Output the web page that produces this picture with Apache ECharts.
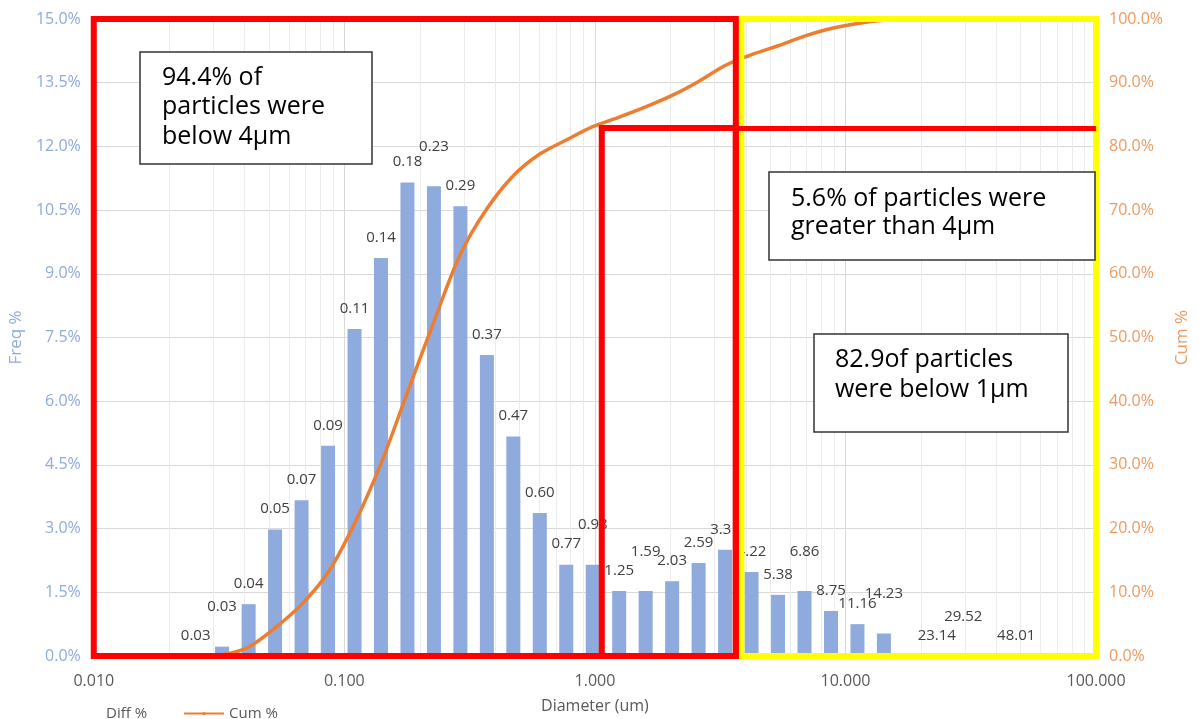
<!DOCTYPE html>
<html>
<head>
<meta charset="utf-8">
<script src="https://cdn.jsdelivr.net/npm/echarts@6/dist/echarts.min.js"></script>
<style>
html,body{margin:0;padding:0;background:#fff;}
#chart{width:1199px;height:719px;}
</style>
</head>
<body>
<div id="chart"></div>
<script>
// ---- data ----
const diameters = [0.0255, 0.0325, 0.0415, 0.0529, 0.0675, 0.0861, 0.1098, 0.1400, 0.1786, 0.2278,
  0.2905, 0.3705, 0.4725, 0.6026, 0.7685, 0.9801, 1.250, 1.594, 2.033, 2.593,
  3.307, 4.218, 5.380, 6.861, 8.751, 11.16, 14.23, 18.15, 23.14, 29.52, 37.65, 48.01];
const diffPct = [0, 0.22, 1.22, 2.98, 3.67, 4.95, 7.70, 9.37, 11.15, 11.06,
  10.59, 7.09, 5.17, 3.37, 2.15, 2.15, 1.53, 1.53, 1.76, 2.19,
  2.50, 1.98, 1.44, 1.53, 1.06, 0.75, 0.53, 0, 0, 0, 0, 0];
const cumPct = [0, 0.2, 1.4, 4.4, 8.1, 13.1, 20.8, 30.2, 41.4, 52.5,
  63.1, 70.2, 75.4, 78.8, 81.0, 83.1, 84.6, 86.2, 88.0, 90.2,
  92.7, 94.4, 95.8, 97.3, 98.5, 99.3, 99.8, 100, 100, 100, 100, 100];
const seriesNames = ['Diff %', 'Cum %'];
const xAxisName = 'Diameter (um)';
const leftAxisName = 'Freq %';
const rightAxisName = 'Cum %';
// annotation regions (diameter / cum % values)
const bigRedRegion = [0.01, 3.65];
const innerRedRegion = [1.065, 3.65];
const cutCum = 82.9;
const yellowRegion = [3.84, 100];
const notes = ['94.4% of\nparticles were\nbelow 4µm', '5.6% of particles were\ngreater than 4µm', '82.9of particles\nwere below 1µm'];

// label placement tweaks (Excel moved some labels up / hid some)
const raisedLabels = [1, 9, 15, 17, 23, 26, 29];
const hiddenLabels = [27, 30];

const FONT = '"Open Sans", "Noto Sans", sans-serif';
const minorLines = [];
[0.01, 0.1, 1, 10].forEach(dec => { for (let k = 2; k <= 9; k++) minorLines.push({ xAxis: +(dec * k).toPrecision(3) }); });

const barData = diameters.map((d, i) => ({
  value: [d, diffPct[i]],
  label: {
    show: hiddenLabels.indexOf(i) < 0,
    distance: raisedLabels.indexOf(i) >= 0 ? 32 : 13
  }
}));
const lineData = diameters.map((d, i) => [d, cumPct[i]]);

const chart = echarts.init(document.getElementById('chart'), null, { renderer: 'canvas' });
chart.setOption({
  animation: false,
  backgroundColor: '#ffffff',
  textStyle: { fontFamily: FONT },
  grid: { left: 90, right: 91, top: 19, bottom: 60, containLabel: false },
  legend: {
    data: [{ name: 'Diff %', icon: 'none' }, { name: 'Cum %' }],
    left: 56, top: 701,
    itemWidth: 40, itemHeight: 4, itemGap: 36,
    textStyle: { color: '#595959', fontSize: 15, fontFamily: FONT }
  },
  xAxis: {
    type: 'log', logBase: 10, min: 0.01, max: 100,
    name: xAxisName, nameLocation: 'middle', nameGap: 42,
    nameTextStyle: { color: '#595959', fontSize: 16, fontFamily: FONT },
    axisLine: { show: false }, axisTick: { show: false },
    axisLabel: { color: '#595959', fontSize: 16, margin: 17, formatter: v => (+v).toFixed(3) },
    splitLine: { show: true, lineStyle: { color: '#d9d9d9', width: 1 } }
  },
  yAxis: [
    {
      type: 'value', min: 0, max: 15, interval: 1.5,
      name: leftAxisName, nameLocation: 'middle', nameGap: 62, nameRotate: 90,
      nameTextStyle: { color: '#8FAADC', fontSize: 17, fontFamily: FONT },
      axisLine: { show: false }, axisTick: { show: false },
      axisLabel: { color: '#8FAADC', fontSize: 16, margin: 13, formatter: v => v.toFixed(1) + '%' },
      splitLine: { show: true, lineStyle: { color: '#d9d9d9', width: 1 } }
    },
    {
      type: 'value', min: 0, max: 100, interval: 10,
      name: rightAxisName, nameLocation: 'middle', nameGap: 74, nameRotate: 90,
      nameTextStyle: { color: '#EE9A62', fontSize: 17, fontFamily: FONT },
      axisLine: { show: false }, axisTick: { show: false },
      axisLabel: { color: '#EE9A62', fontSize: 16, margin: 13, formatter: v => v.toFixed(1) + '%' },
      splitLine: { show: false }
    }
  ],
  series: [
    {
      name: 'minor', type: 'line', data: [], z: 1, silent: true,
      markLine: {
        silent: true, symbol: 'none', label: { show: false }, animation: false, z: 1,
        lineStyle: { color: '#ececec', width: 1, type: 'solid' },
        data: minorLines
      }
    },
    {
      name: seriesNames[0], type: 'bar', barWidth: 14, z: 2,
      itemStyle: { color: '#8FAADC' },
      label: {
        show: true, position: 'top', color: '#404040', fontSize: 15, fontFamily: FONT,
        formatter: p => p.value[0].toFixed(2)
      },
      data: barData
    },
    {
      name: seriesNames[1], type: 'line', yAxisIndex: 1, z: 3,
      symbol: 'none', smooth: 0.3,
      lineStyle: { color: '#ED7D31', width: 3.5 },
      itemStyle: { color: '#ED7D31' },
      data: lineData
    },
    {
      name: 'yellowBox', type: 'line', yAxisIndex: 1, data: [], z: 10, silent: true,
      markArea: {
        silent: true, z: 10,
        itemStyle: { color: 'rgba(0,0,0,0)', borderColor: '#FFFF00', borderWidth: 6 },
        data: [[{ xAxis: yellowRegion[0], yAxis: 0 }, { xAxis: yellowRegion[1], yAxis: 100 }]]
      }
    },
    {
      name: 'redBoxes', type: 'line', yAxisIndex: 1, data: [], z: 11, silent: true,
      markArea: {
        silent: true, z: 11,
        itemStyle: { color: 'rgba(0,0,0,0)', borderColor: '#FF0000', borderWidth: 6 },
        data: [
          [{ xAxis: bigRedRegion[0], yAxis: 0 }, { xAxis: bigRedRegion[1], yAxis: 100 }],
          [{ xAxis: innerRedRegion[0], yAxis: 0 }, { xAxis: innerRedRegion[1], yAxis: cutCum }]
        ]
      },
      markLine: {
        silent: true, symbol: 'none', label: { show: false }, z: 12,
        lineStyle: { color: '#FF0000', width: 5, type: 'solid' },
        data: [[{ coord: [innerRedRegion[0], cutCum] }, { coord: [yellowRegion[1], cutCum] }]]
      }
    }
  ],
  graphic: [
    { type: 'rect', z: 100, shape: { x: 140, y: 52, width: 232, height: 112 }, style: { fill: '#fff', stroke: '#333', lineWidth: 1.5 } },
    { type: 'text', z: 101, x: 162, y: 63, style: { text: notes[0], font: '25px ' + FONT, lineHeight: 29.5, fill: '#000' } },
    { type: 'rect', z: 100, shape: { x: 769, y: 172, width: 326, height: 88 }, style: { fill: '#fff', stroke: '#333', lineWidth: 1.5 } },
    { type: 'text', z: 101, x: 791, y: 185, style: { text: notes[1], font: '25px ' + FONT, lineHeight: 28, fill: '#000' } },
    { type: 'rect', z: 100, shape: { x: 814, y: 334, width: 254, height: 98 }, style: { fill: '#fff', stroke: '#333', lineWidth: 1.5 } },
    { type: 'text', z: 101, x: 835, y: 345, style: { text: notes[2], font: '25px ' + FONT, lineHeight: 30, fill: '#000' } }
  ]
});
</script>
</body>
</html>
